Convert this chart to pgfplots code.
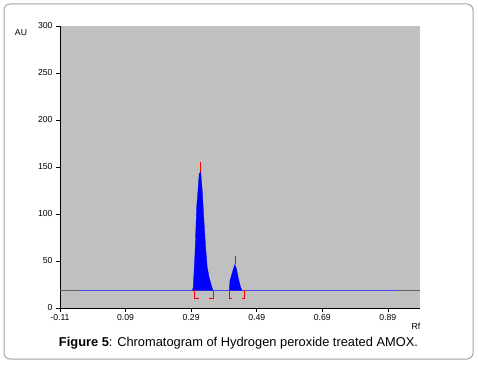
\documentclass[border=0pt]{standalone}
\usepackage{pgfplots}
\pgfplotsset{compat=1.18}
\usepackage{fontspec}
\setmainfont{Liberation Sans}
\definecolor{bggray}{RGB}{192,192,192}
\definecolor{baseblue}{RGB}{70,70,240}
\definecolor{framegray}{RGB}{165,165,165}
\begin{document}
\begin{tikzpicture}[x=1bp,y=1bp]
\path[use as bounding box] (0,0) rectangle (478,367);
\draw[framegray, line width=1bp, rounded corners=6bp] (4,8) rectangle (473,363);
\begin{axis}[
  at={(60bp,59bp)}, anchor=south west,
  scale only axis, width=360bp, height=282bp,
  xmin=-0.11, xmax=0.988, ymin=0, ymax=300,
  axis background/.style={fill=bggray},
  axis x line*=bottom, axis y line*=left,
  axis line style={black, line width=0.8bp, -},
  tick align=outside, major tick length=4bp,
  tick style={black, line width=0.6bp},
  xtick={-0.11,0.09,0.29,0.49,0.69,0.89},
  xticklabels={-0.11,0.09,0.29,0.49,0.69,0.89},
  ytick={0,50,100,150,200,250,300},
  yticklabels={0,50,100,150,200,250,300},
  tick label style={font=\fontsize{8.7}{10}\selectfont},
  /pgf/number format/assume math mode=true,
  xticklabel style={yshift=1bp},
  clip=true,
]
% baseline
\addplot[draw={rgb,255:red,100;green,100;blue,100}, line width=0.8bp] coordinates {(-0.11,19) (-0.049,19)};
\addplot[draw=baseblue, line width=0.8bp] coordinates {(-0.049,19) (0.9174,19)};
\addplot[draw={rgb,255:red,100;green,100;blue,100}, line width=0.8bp] coordinates {(0.9174,19) (0.988,19)};
% peak 1
\addplot[fill=blue, draw=blue, line width=0.3bp] coordinates {
(0.2940,19) (0.2964,22) (0.3016,57) (0.3068,107) (0.3147,143) (0.3190,145)
(0.3238,125) (0.3290,93) (0.3342,64) (0.3391,43) (0.3452,32) (0.3525,23) (0.3565,19)} -- cycle;
% peak 2
\addplot[fill=blue, draw=blue, line width=0.3bp] coordinates {
(0.4062,19) (0.4083,29) (0.4165,39) (0.4235,46.5) (0.4287,41) (0.4336,32) (0.4409,22) (0.4449,19)} -- cycle;
% apex markers
\addplot[red, line width=0.8bp] coordinates {(0.3190,145) (0.3190,155)};
\addplot[red, line width=0.8bp] coordinates {(0.4256,47) (0.4256,55)};
% brackets
\addplot[red, line width=0.8bp] coordinates {(0.3000,19) (0.3000,10.6) (0.3138,10.6)};
\addplot[red, line width=0.8bp] coordinates {(0.3574,19) (0.3574,10.6) (0.3444,10.6)};
\addplot[red, line width=0.8bp] coordinates {(0.4052,19) (0.4052,10.6) (0.4135,10.6)};
\addplot[red, line width=0.8bp] coordinates {(0.4519,19) (0.4519,10.6) (0.4440,10.6)};
\end{axis}
\node[font=\fontsize{8.7}{10}\selectfont] at (21,334) {AU};
\node[font=\fontsize{8.7}{10}\selectfont] at (416,41) {Rf};
\node[font=\fontsize{12.9}{15}\selectfont] at (238.5,24) {\textbf{Figure 5}: Chromatogram of Hydrogen peroxide treated AMOX.};
\end{tikzpicture}
\end{document}
